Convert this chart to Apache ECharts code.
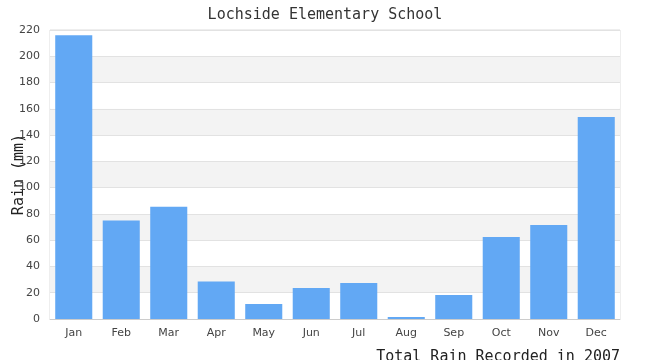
<!DOCTYPE html>
<html>
<head>
<meta charset="utf-8">
<script src="https://cdn.jsdelivr.net/npm/echarts@6/dist/echarts.min.js"></script>
<style>html,body{margin:0;padding:0;background:#fff}#c{width:650px;height:360px}</style>
</head>
<body>
<div id="c"></div>
<script>
var months = ['Jan','Feb','Mar','Apr','May','Jun','Jul','Aug','Sep','Oct','Nov','Dec'];
var rain = [216, 75, 85.5, 28.5, 11.5, 23.6, 27.4, 1.5, 18.3, 62.4, 71.5, 153.8];
var titleText = 'Lochside Elementary School';
var xName = 'Total Rain Recorded in 2007';
var yName = 'Rain (mm)';

var mono = '"DejaVu Sans Mono", monospace';
var chart = echarts.init(document.getElementById('c'), null, {renderer: 'canvas'});
chart.setOption({
  animation: false,
  title: [
    {text: titleText, left: 'center', top: 3, textStyle: {fontFamily: mono, fontSize: 15, fontWeight: 'normal', color: '#333'}},
    {text: xName, right: 25, top: 345, textStyle: {fontFamily: mono, fontSize: 15, fontWeight: 'normal', color: '#222'}}
  ],
  grid: {left: 50, right: 30, top: 30, bottom: 41, containLabel: false, outerBoundsMode: 'none', show: true, borderColor: '#ddd', borderWidth: 1, backgroundColor: 'transparent'},
  xAxis: {
    type: 'category', data: months,
    axisLine: {lineStyle: {color: '#ccc'}},
    axisTick: {show: false},
    axisLabel: {fontFamily: '"DejaVu Sans", sans-serif', fontSize: 11, color: '#444', margin: 9}
  },
  yAxis: {
    type: 'value', min: 0, max: 220, interval: 20,
    name: yName, nameLocation: 'middle', nameGap: 23, nameMoveOverlap: false,
    nameTextStyle: {fontFamily: mono, fontSize: 15, color: '#222'},
    axisLine: {show: false}, axisTick: {show: false},
    axisLabel: {fontFamily: '"DejaVu Sans", sans-serif', fontSize: 11, color: '#444', margin: 10},
    splitLine: {lineStyle: {color: '#e2e2e2'}},
    splitArea: {show: true, areaStyle: {color: ['#ffffff', '#f3f3f3']}}
  },
  series: [{
    type: 'bar', data: rain, barCategoryGap: '22%',
    itemStyle: {color: '#62a8f4'}
  }]
});
</script>
</body>
</html>
